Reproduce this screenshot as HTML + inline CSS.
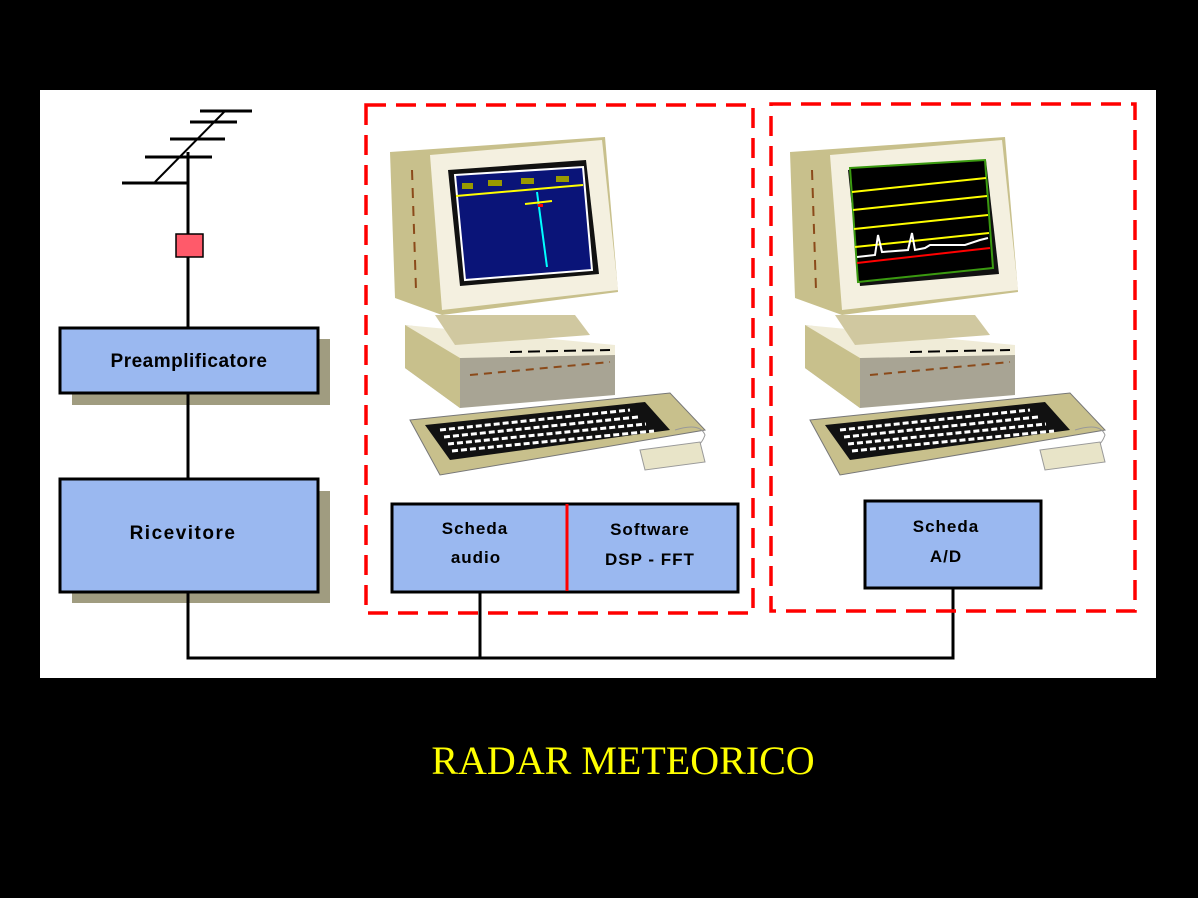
<!DOCTYPE html>
<html><head><meta charset="utf-8"><style>
html,body{margin:0;padding:0;background:#000;}
svg{display:block}
</style></head><body>
<svg width="1198" height="898" viewBox="0 0 1198 898" xmlns="http://www.w3.org/2000/svg">
<defs>
<g id="pc">
  <polygon points="30,290 290,263 325,300 60,345" fill="#c8c08c" stroke="#777" stroke-width="1"/>
  <polygon points="45,295 265,272 290,300 70,330" fill="#111"/>
  <g stroke="#fff" stroke-width="3" stroke-dasharray="6,3">
    <line x1="60" y1="300" x2="250" y2="280"/>
    <line x1="64" y1="307" x2="258" y2="287"/>
    <line x1="68" y1="314" x2="266" y2="294"/>
    <line x1="72" y1="321" x2="274" y2="301"/>
  </g>
  <path d="M295,300 q25,-8 30,5 q-5,15 -25,20" fill="none" stroke="#999" stroke-width="1"/>
  <polygon points="260,320 320,312 325,332 265,340" fill="#e8e4c8" stroke="#999"/>
  <polygon points="25,195 235,222 235,265 80,278 25,238" fill="#a8a494"/>
  <polygon points="25,195 80,222 80,278 25,238" fill="#c8c08c"/>
  <polygon points="25,195 235,215 235,225 80,228" fill="#f0ecd8"/>
  <line x1="90" y1="245" x2="230" y2="232" stroke="#8b4a1a" stroke-width="2" stroke-dasharray="8,6"/>
  <line x1="130" y1="222" x2="230" y2="220" stroke="#000" stroke-width="2" stroke-dasharray="12,6"/>
  <polygon points="55,185 195,185 210,205 75,215" fill="#d0c8a0"/>
  <polygon points="10,22 225,7 238,162 62,185 15,168" fill="#c8c08c"/>
  <polygon points="50,25 222,10 238,160 62,180" fill="#f4f0e0"/>
  <line x1="32" y1="40" x2="36" y2="160" stroke="#8b4a1a" stroke-width="2" stroke-dasharray="10,8"/>
  <polygon points="68,40 206,30 219,144 80,156" fill="#111"/>
</g>
</defs>
<rect x="40" y="90" width="1116" height="588" fill="#fff"/>

<g stroke="#000" stroke-width="3">
  <line x1="188" y1="152" x2="188" y2="327"/>
  <line x1="200" y1="111" x2="252" y2="111"/>
  <line x1="190" y1="122" x2="237" y2="122"/>
  <line x1="170" y1="139" x2="225" y2="139"/>
  <line x1="145" y1="157" x2="212" y2="157"/>
  <line x1="122" y1="183" x2="188" y2="183"/>
  <line x1="155" y1="182" x2="225" y2="111" stroke-width="2"/>
</g>
<rect x="176" y="234" width="27" height="23" fill="#ff5a6a" stroke="#000" stroke-width="1.5"/>

<rect x="72" y="339" width="258" height="66" fill="#a09c80"/>
<rect x="60" y="328" width="258" height="65" fill="#9ab8f0" stroke="#000" stroke-width="3"/>
<text x="189" y="367" font-family="Liberation Sans, sans-serif" font-weight="bold" font-size="19" letter-spacing="0.5" text-anchor="middle">Preamplificatore</text>
<rect x="72" y="491" width="258" height="112" fill="#a09c80"/>
<rect x="60" y="479" width="258" height="113" fill="#9ab8f0" stroke="#000" stroke-width="3"/>
<text x="183" y="539" font-family="Liberation Sans, sans-serif" font-weight="bold" font-size="19" letter-spacing="1.5" text-anchor="middle">Ricevitore</text>

<g stroke="#000" stroke-width="3" fill="none">
  <line x1="188" y1="393" x2="188" y2="479"/>
  <polyline points="188,592 188,658 953,658 953,588"/>
  <line x1="480" y1="592" x2="480" y2="658"/>
</g>

<rect x="366" y="105" width="387" height="508" fill="none" stroke="#f00" stroke-width="3.5" stroke-dasharray="20,10"/>
<rect x="771" y="104" width="364" height="507" fill="none" stroke="#f00" stroke-width="3.5" stroke-dasharray="20,10"/>

<g transform="translate(380,130)">
  <use href="#pc"/>
  <polygon points="75,45 203,37 212,140 85,150" fill="#0a1478" stroke="#fff" stroke-width="2"/>
  <line x1="76" y1="66" x2="203" y2="55" stroke="#ff0" stroke-width="2"/>
  <rect x="82" y="53" width="11" height="6" fill="#999900"/>
  <rect x="108" y="50" width="14" height="6" fill="#999900"/>
  <rect x="141" y="48" width="13" height="6" fill="#999900"/>
  <rect x="176" y="46" width="13" height="6" fill="#999900"/>
  <line x1="157" y1="62" x2="167" y2="137" stroke="#0ff" stroke-width="2"/>
  <line x1="145" y1="74" x2="172" y2="71" stroke="#ff0" stroke-width="2"/>
  <rect x="158" y="74" width="5" height="3" fill="#f00"/>
</g>

<g transform="translate(780,130)">
  <use href="#pc"/>
  <polygon points="70,38 205,30 213,138 78,152" fill="#000" stroke="#3a9a10" stroke-width="2"/>
  <g stroke="#ff0" stroke-width="2">
    <line x1="72" y1="62" x2="206" y2="48"/>
    <line x1="73" y1="80" x2="207" y2="66"/>
    <line x1="74" y1="99" x2="208" y2="85"/>
    <line x1="75" y1="117" x2="209" y2="103"/>
  </g>
  <polyline points="77,127 95,125 98,105 102,122 128,120 132,103 135,120 145,118 150,115 185,115 200,110 208,108" fill="none" stroke="#fff" stroke-width="2"/>
  <line x1="77" y1="133" x2="210" y2="118" stroke="#f00" stroke-width="2"/>
</g>

<rect x="392" y="504" width="346" height="88" fill="#9ab8f0" stroke="#000" stroke-width="3"/>
<line x1="567" y1="504" x2="567" y2="591" stroke="#f00" stroke-width="3"/>
<g font-family="Liberation Sans, sans-serif" font-weight="bold" font-size="17" text-anchor="middle" letter-spacing="1">
  <text x="475" y="534">Scheda</text>
  <text x="476" y="563">audio</text>
  <text x="650" y="535">Software</text>
  <text x="650" y="565">DSP - FFT</text>
</g>
<rect x="865" y="501" width="176" height="87" fill="#9ab8f0" stroke="#000" stroke-width="3"/>
<g font-family="Liberation Sans, sans-serif" font-weight="bold" font-size="17" text-anchor="middle" letter-spacing="1">
  <text x="946" y="532">Scheda</text>
  <text x="946" y="562">A/D</text>
</g>

<text x="623" y="774" font-family="Liberation Serif, serif" font-size="40" fill="#ffff00" text-anchor="middle">RADAR METEORICO</text>
</svg>
</body></html>
